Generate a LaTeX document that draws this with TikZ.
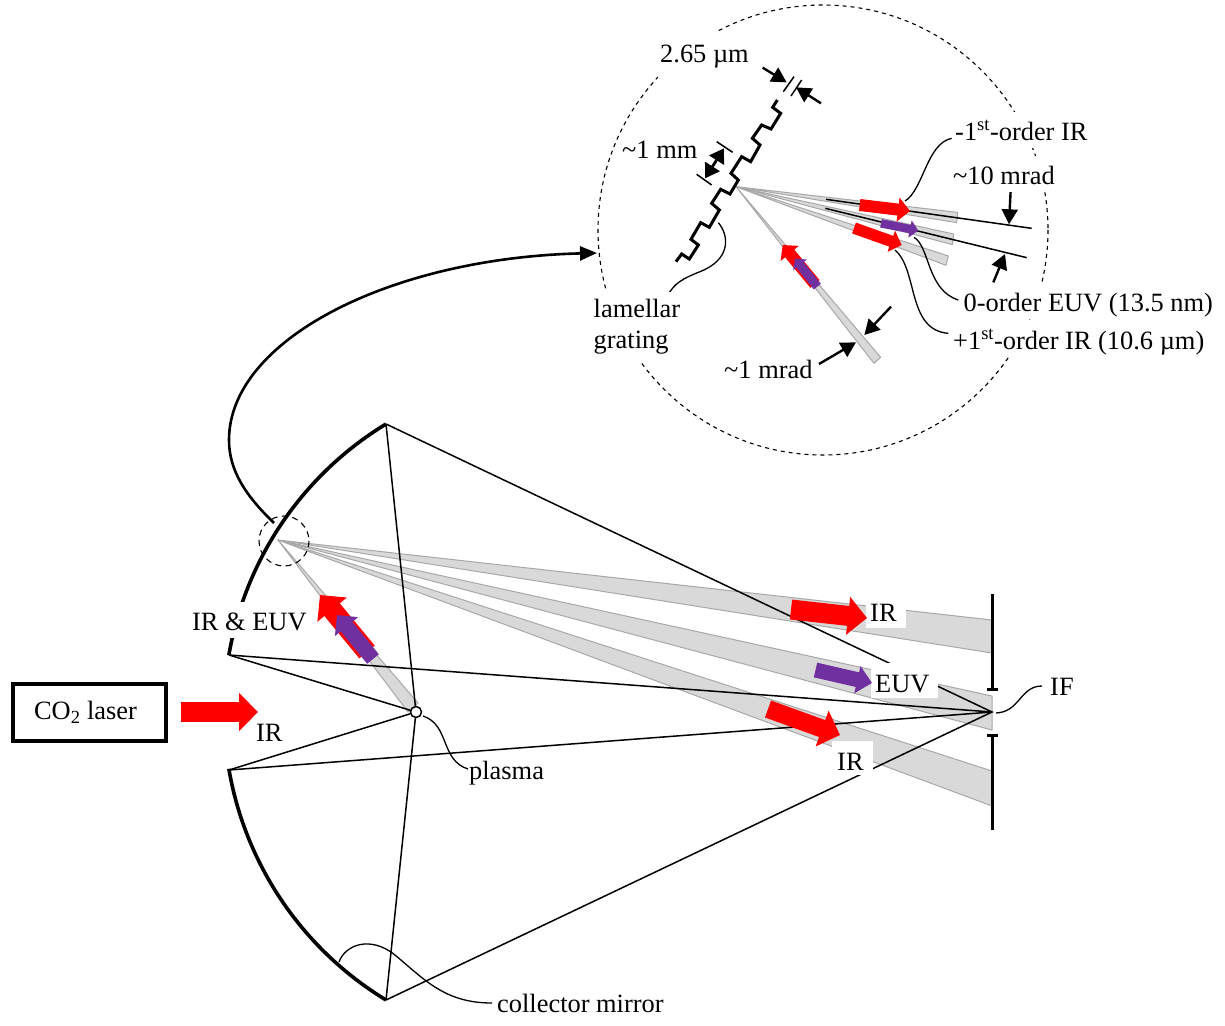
\documentclass[tikz,border=0pt]{standalone}
\usepackage{fontspec}
\setmainfont{Liberation Serif}
\usetikzlibrary{arrows.meta}
\definecolor{beamfill}{HTML}{D9D9D9}
\definecolor{beamedge}{HTML}{A8A8A8}
\definecolor{euv}{HTML}{7030A0}
\definecolor{irred}{HTML}{FF0000}
\tikzset{
  beam/.style={fill=beamfill,draw=beamedge,line width=1pt,line join=round},
  thin line/.style={draw=black,line width=1.5pt},
  leader/.style={draw=black,line width=1.3pt},
  bold line/.style={draw=black,line width=3.6pt},
  slit/.style={draw=black,line width=3pt},
  ring/.style={draw=black,line width=1.1pt,dash pattern=on 4pt off 4pt},
  fat/.style n args={4}{draw=#1,line width=#2pt,-{Triangle[length=#4pt,width=#3pt,fill=#1,color=#1]}},
  dim/.style={draw=black,line width=2.4pt,-{Triangle[length=15pt,width=16pt]}},
  lbl/.style={font=\fontsize{26.4}{31}\selectfont,inner sep=0pt,text=black},
  wlbl/.style={lbl,fill=white,inner xsep=2pt,inner ysep=0pt,text height=28pt,text depth=8pt},
  wbox/.style={lbl,fill=white,anchor=base west,inner sep=0pt},
}
\begin{document}
\begin{tikzpicture}[x=1pt,y=-1pt]
\useasboundingbox (0,0) rectangle (1225,1025);
% --- main: beams
\coordinate (apex) at (278,540);
\coordinate (pl) at (416,712);
\coordinate (IFc) at (992,712);
\coordinate (m1) at (386,424);
\coordinate (m2) at (229,655);
\coordinate (m3) at (229,770);
\coordinate (m4) at (386,1000);
\filldraw[beam] (apex) -- (992,620) -- (992,653) -- cycle;
\filldraw[beam] (apex) -- (992,696) -- (992,730) -- cycle;
\filldraw[beam] (apex) -- (992,771) -- (992,806) -- cycle;
\filldraw[beam] (apex) -- (418,703) -- (408,712) -- cycle;
% mirror
\draw[bold line] plot[domain=189.7:238.7,samples=50] ({561+337*cos(\x)},{712+337*sin(\x)});
\draw[bold line] plot[domain=121.3:170.3,samples=50] ({561+337*cos(\x)},{712+337*sin(\x)});
% rays
\draw[thin line] (m1) -- (pl) -- (m4);
\draw[thin line] (m2) -- (pl) -- (m3);
\draw[thin line] (m1) -- (IFc) -- (m4);
\draw[thin line] (m2) -- (IFc) -- (m3);
% aperture
\draw[slit] (992,594) -- (992,689) (987,689) -- (998,689);
\draw[slit] (992,830) -- (992,735) (987,735) -- (998,735);
% ring and curved link
\draw[ring,dash pattern=on 6pt off 4.5pt] (284,541) circle (25);
\coordinate (linkS) at (274,523);
\coordinate (linkE) at (597,253);
\draw[draw=black,line width=2.6pt,-{Triangle[length=17pt,width=14pt]}] (linkS) .. controls (245,495) and (229,470) .. (229,440) .. controls (229,340) and (390,258) .. (linkE);
% leaders
\draw[leader] (423,716) .. controls (450,725) and (440,760) .. (468,769);
\draw[leader] (996,713) .. controls (1020,712) and (1020,686) .. (1042,686);
\draw[leader] (339,962) .. controls (345,945) and (370,935) .. (395,955) .. controls (425,980) and (445,1003) .. (492,1003);
% main labels
\node[wbox,text height=24pt,text depth=7pt] (lirr) at (866,621) {\hspace*{4pt}IR\hspace*{9pt}};
\node[wbox,text height=29pt,text depth=6pt] (leuv) at (871,692) {\hspace*{4pt}EUV\hspace*{9pt}};
\node[wbox,text height=29pt,text depth=5pt] (lir2) at (832,770) {\hspace*{5pt}IR\hspace*{9pt}};
\node[wlbl,anchor=base west] (lboth) at (190,630) {IR \& EUV};
\node[lbl,anchor=base west] (lir3) at (256,741) {IR};
\node[lbl,anchor=base west] (lpl) at (469,779) {plasma};
\node[lbl,anchor=base west] (lif) at (1050,695) {IF};
\node[lbl,anchor=base west] (lcm) at (497,1012) {collector mirror};
\node[draw=black,line width=4pt,minimum width=153pt,minimum height=57pt,inner sep=0pt,font=\fontsize{26.4}{31}\selectfont] (laser) at (89.5,712.5) {\hspace*{-8pt}CO\textsubscript{2} laser};
% main arrows
\draw[fat={irred}{20}{37}{19}] (791,609.5) -- (867,618);
\draw[fat={euv}{15}{27}{15}] (815.5,670) -- (872,683);
\draw[fat={irred}{18}{37}{19}] (768,709) -- (840,735);
\draw[fat={irred}{20}{37}{19}] (181,712) -- (258,712);
\draw[fat={irred}{20}{37}{19}] (367,652) -- (320,595);
\draw[fat={euv}{15}{29}{15}] (373,659) -- (337,615);
% plasma
\node[circle,draw=black,fill=white,line width=1.5pt,minimum size=11pt,inner sep=0pt] (plasma) at (pl) {};
% --- inset
\draw[ring] (823,230) circle (225);
\begin{scope}[shift={(590,30)},x=.33333pt,y=-.33333pt]
\coordinate (ap) at (438,470);
\filldraw[beam] (ap) -- (1103,547) -- (1100,578) -- cycle;
\filldraw[beam] (ap) -- (1091,612) -- (1087,644) -- cycle;
\filldraw[beam] (ap) -- (1075,678) -- (1068,706) -- cycle;
\filldraw[beam] (ap) -- (872,982) -- (852,1000) -- cycle;
\draw[thin line] (708,508) -- (1325,595);
\draw[thin line] (706,535) -- (1310,683);
\draw[draw=black,line width=3pt,line join=miter] (258,695) -- (275,672) -- (298,687) -- (325,645) -- (303,628) -- (332,578) -- (358,592) -- (388,540) -- (365,520) -- (392,478) -- (420,492) -- (445,450) -- (423,430) -- (455,380) -- (482,395) -- (510,345) -- (487,325) -- (515,285) -- (543,297) -- (572,250) -- (548,232) -- (562,210);
% dimension ticks
\draw[thin line] (580,185) -- (612,140);
\draw[thin line] (603,198) -- (635,150);
\draw[thin line] (428,367) -- (380,335);
\draw[thin line] (365,465) -- (320,433);
% dimension arrows
\draw[dim] (518,113) -- (590,157);
\draw[dim] (693,220) -- (618,172);
\draw[draw=black,line width=2.8pt,{Triangle[length=14pt,width=17pt]}-{Triangle[length=14pt,width=17pt]}] (402,355) -- (345,445);
\draw[dim] (1262,480) -- (1257,583);
\draw[dim] (1210,757) -- (1245,672);
\draw[dim] (903,830) -- (823,915);
\draw[dim] (687,1002) -- (798,937);
% leaders
\draw[leader] (945,513) .. controls (1000,480) and (1010,340) .. (1085,325);
\draw[leader] (972,622) .. controls (1020,650) and (1010,780) .. (1105,810);
\draw[leader] (915,660) .. controls (985,720) and (950,900) .. (1075,910);
\draw[leader] (385,578) .. controls (420,620) and (420,690) .. (330,725) .. controls (280,745) and (250,760) .. (232,800);
% arrows
\draw[fat={irred}{12}{23.5}{12}] (809,525) -- (960,543);
\draw[fat={irred}{11.5}{22}{11}] (792,594) -- (935,645);
\draw[fat={euv}{8.5}{17}{8.5}] (873,580) -- (985,602);
\draw[fat={irred}{12}{23}{11}] (675,762) -- (578,645);
\draw[fat={euv}{9}{17}{8}] (682,770) -- (615,686);
\end{scope}
% inset labels
\node[wlbl,anchor=base west,text height=31pt,text depth=19pt] (t1) at (658,63) {2.65 µm};
\node[lbl,anchor=base west] (t2) at (622,158) {\textasciitilde1 mm};
\node[wlbl,anchor=base west] (t3) at (953,140) {-1\textsuperscript{st}-order IR};
\node[wlbl,anchor=base west,inner xsep=4pt] (t4) at (949,184) {\textasciitilde10 mrad};
\node[wlbl,anchor=base west] (t5) at (961.5,311) {0-order EUV (13.5 nm)};
\node[wlbl,anchor=base west] (t6) at (951,349) {+1\textsuperscript{st}-order IR (10.6 µm)};
\node[wlbl,anchor=base west] (t7) at (722,378) {\textasciitilde1 mrad};
\node[lbl,fill=white,inner xsep=2pt,inner ysep=7pt,anchor=west,align=left] (t8) at (591.5,326.5) {lamellar\\grating};
\end{tikzpicture}
\end{document}
